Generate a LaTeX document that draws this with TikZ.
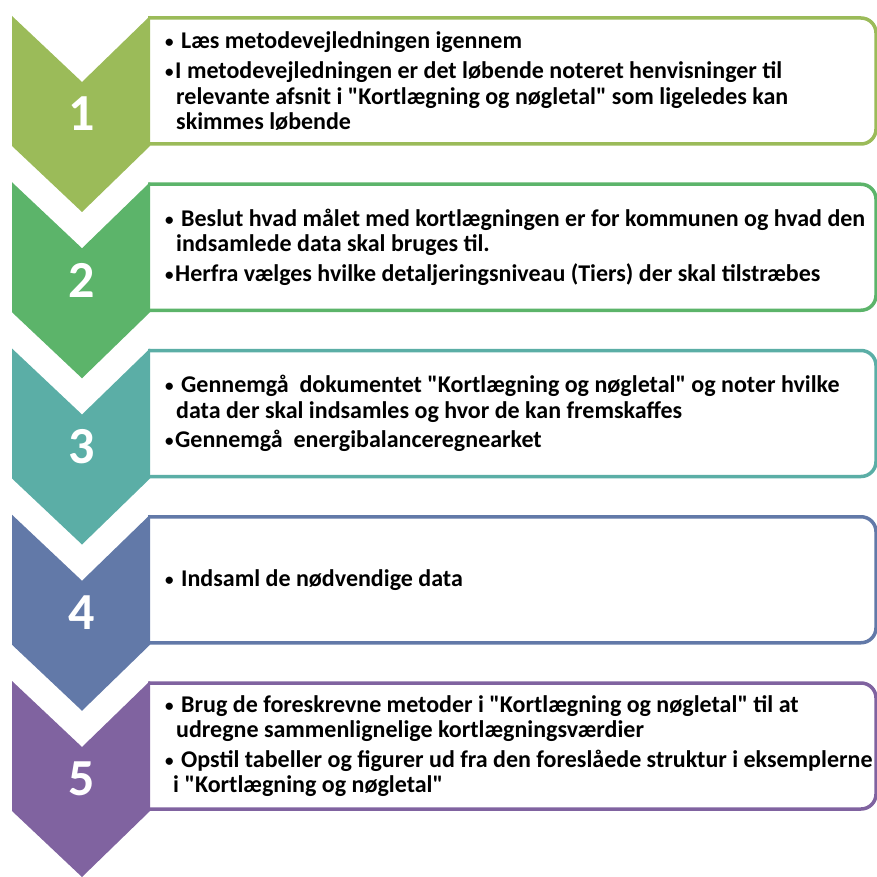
\documentclass[tikz,border=0pt]{standalone}
\usepackage{fontspec}
\setmainfont{Carlito}[Ligatures=TeXOff]
\definecolor{c1}{HTML}{9BBB59}
\definecolor{c2}{HTML}{5CB46A}
\definecolor{c3}{HTML}{5BAEA6}
\definecolor{c4}{HTML}{6279A8}
\definecolor{c5}{HTML}{8063A0}
\tikzset{
  chev/.style={fill=#1, draw=none},
  stepbox/.style={draw=#1, line width=3.5pt, fill=white, rounded corners=15pt},
  num/.style={text=white, inner sep=0pt, font=\fontsize{52}{52}\selectfont\bfseries},
  txt/.style={anchor=west, align=left, inner sep=0pt, font=\fontsize{24}{25.5}\selectfont\bfseries},
}
\newcommand{\q}{"}
\newcommand{\bul}[1]{\makebox[#1][l]{\raisebox{1pt}{\fontsize{17}{17}\selectfont •}}}
\newcommand{\ind}{\hspace*{11pt}}
\newcommand{\chevronat}[2]{% #1 top, #2 colour
  \path[chev=#2] (12,#1) -- (82,#1+66) -- (150,#1) -- (150,#1+130) -- (82,#1+196) -- (12,#1+130) -- cycle;
}
\newcommand{\boxat}[2]{% #1 top, #2 colour
  \path[stepbox=#2] (148,#1+2) -- (876,#1+2) -- (876,#1+128) -- (148,#1+128);
}
\begin{document}
\begin{tikzpicture}[x=1pt,y=-1pt]
\useasboundingbox (0,0) rectangle (877,877);
% boxes
\boxat{16}{c1}
\boxat{182.25}{c2}
\boxat{348.5}{c3}
\boxat{514.75}{c4}
\boxat{681}{c5}
% chevrons
\chevronat{16}{c1}
\chevronat{182.25}{c2}
\chevronat{348.5}{c3}
\chevronat{514.75}{c4}
\chevronat{681}{c5}
% numbers
\node[num] (n1) at (82,16+98) {1};
\node[num] (n2) at (82,182.25+98) {2};
\node[num] (n3) at (82,348.5+98) {3};
\node[num] (n4) at (82,514.75+98) {4};
\node[num] (n5) at (82,681+98) {5};
% texts
\node[txt] (t1) at (165,16+65) {\bul{16pt}Læs metodevejledningen igennem\\[5pt]
\bul{10pt}I metodevejledningen er det løbende noteret henvisninger til\\
\ind relevante afsnit i \q Kortlægning og nøgletal\q\ som ligeledes kan\\
\ind skimmes løbende};
\node[txt] (t2) at (165,182.25+65) {\bul{16pt}Beslut hvad målet med kortlægningen er for kommunen og hvad den\\
\ind indsamlede data skal bruges til.\\[4pt]
\bul{10pt}Herfra vælges hvilke detaljeringsniveau (Tiers) der skal tilstræbes};
\node[txt] (t3) at (165,348.5+65) {\bul{16pt}Gennemgå\ \ dokumentet \q Kortlægning og nøgletal\q\ og noter hvilke\\
\ind data der skal indsamles og hvor de kan fremskaffes\\[4pt]
\bul{10pt}Gennemgå\ \ energibalanceregnearket};
\node[txt] (t4) at (165,514.75+65) {\bul{16pt}Indsaml de nødvendige data};
\node[txt] (t5) at (165,681+65) {\bul{16pt}Brug de foreskrevne metoder i \q Kortlægning og nøgletal\q\ til at\\
\ind udregne sammenlignelige kortlægningsværdier\\[4pt]
\bul{16pt}Opstil tabeller og figurer ud fra den foreslåede struktur i eksemplerne\\
\hspace*{8pt}i \q Kortlægning og nøgletal\q};
\end{tikzpicture}
\end{document}
